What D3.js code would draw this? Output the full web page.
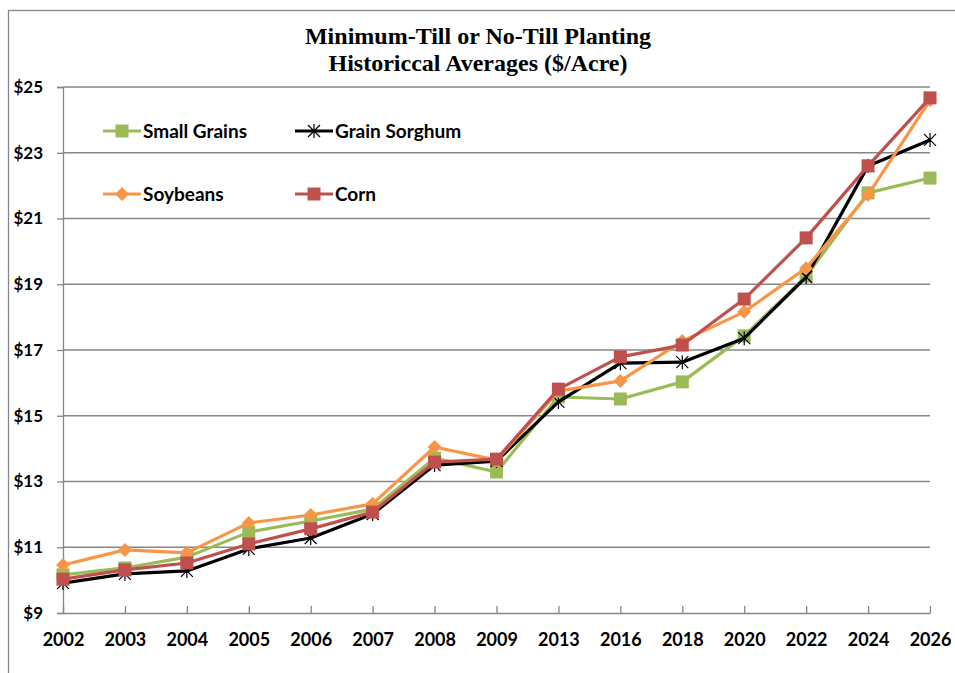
<!DOCTYPE html>
<html>
<head>
<meta charset="utf-8">
<script src="https://cdn.jsdelivr.net/npm/d3@7"></script>
<style>
  body { margin: 0; background: #fff; }
  text { font-family: Lato, "Open Sans", sans-serif; }
</style>
</head>
<body>
<div id="chart"></div>
<script>
// categories (x axis) and series values
var years = ["2002","2003","2004","2005","2006","2007","2008","2009","2013","2016","2018","2020","2022","2024","2026"];
var smallGrains  = [10.16, 10.37, 10.70, 11.46, 11.80, 12.16, 13.71, 13.29, 15.57, 15.51, 16.03, 17.43, 19.25, 21.78, 22.23];
var grainSorghum = [ 9.91, 10.19, 10.28, 10.95, 11.28, 12.01, 13.50, 13.62, 15.42, 16.60, 16.63, 17.36, 19.22, 22.60, 23.39];
var soybeans     = [10.46, 10.92, 10.83, 11.74, 11.98, 12.32, 14.05, 13.65, 15.75, 16.06, 17.27, 18.16, 19.49, 21.72, 24.60];
var corn         = [10.03, 10.31, 10.52, 11.10, 11.56, 12.07, 13.59, 13.68, 15.81, 16.79, 17.15, 18.55, 20.41, 22.60, 24.67];
var yTicks = [9, 11, 13, 15, 17, 19, 21, 23, 25];

var series = [
  {name: "Small Grains",  values: smallGrains,  color: "#9BBB59", marker: "square"},
  {name: "Grain Sorghum", values: grainSorghum, color: "#000000", marker: "star"},
  {name: "Soybeans",      values: soybeans,     color: "#F79646", marker: "diamond"},
  {name: "Corn",          values: corn,         color: "#C0504D", marker: "square"}
];

var W = 955, H = 673;
// plot area (note: "top" is reserved on window, so use prefixed names)
var pLeft = 63, pRight = 930, pTop = 87, pBottom = 613;

var svg = d3.select("#chart").append("svg")
  .attr("width", W).attr("height", H);

// outer chart border
svg.append("rect")
  .attr("x", 8.5).attr("y", 10.5)
  .attr("width", 1000).attr("height", 700)
  .attr("fill", "none").attr("stroke", "#868686").attr("stroke-width", 1.3);

// title
var title = svg.append("text")
  .attr("text-anchor", "middle")
  .style("font-family", "'Liberation Serif', 'Times New Roman', serif")
  .style("font-weight", "bold")
  .style("font-size", "24px");
title.append("tspan").attr("x", 478).attr("y", 44).text("Minimum-Till or No-Till Planting");
title.append("tspan").attr("x", 478).attr("y", 71).text("Historiccal Averages ($/Acre)");

var x = d3.scalePoint().domain(years).range([pLeft, pRight]);
var y = d3.scaleLinear().domain([9, 25]).range([pBottom, pTop]);

// gridlines
svg.append("g").selectAll("line")
  .data(yTicks.filter(function (d) { return d > 9; }))
  .enter().append("line")
  .attr("x1", pLeft).attr("x2", pRight)
  .attr("y1", function (d) { return y(d); })
  .attr("y2", function (d) { return y(d); })
  .attr("stroke", "#868686").attr("stroke-width", 1.3);

// y axis
var yAxis = svg.append("g")
  .attr("transform", "translate(" + pLeft + ",0)")
  .call(d3.axisLeft(y).tickValues(yTicks).tickSize(6).tickPadding(14)
    .tickFormat(function (d) { return "$" + d; }));
yAxis.select(".domain").attr("stroke", "#868686").attr("stroke-width", 1.3);
yAxis.selectAll(".tick line").attr("stroke", "#868686").attr("stroke-width", 1.3);
yAxis.selectAll("text")
  .style("font-size", "17px").style("font-weight", "bold").attr("fill", "#000")
  .style("font-family", "Lato, sans-serif");

// x axis (ticks pointing inward)
var xAxis = svg.append("g")
  .attr("transform", "translate(0," + pBottom + ")")
  .call(d3.axisBottom(x).tickSize(-7).tickPadding(20).tickSizeOuter(0));
xAxis.select(".domain").attr("stroke", "#868686").attr("stroke-width", 1.3);
xAxis.selectAll(".tick line").attr("stroke", "#868686").attr("stroke-width", 1.3);
xAxis.selectAll("text")
  .style("font-size", "18px").style("font-weight", "bold").attr("fill", "#000")
  .style("font-family", "Lato, sans-serif");

// marker drawing helper
function drawMarker(g, type, color, cx, cy) {
  if (type === "square") {
    g.append("rect").attr("x", cx - 6.5).attr("y", cy - 6.5)
      .attr("width", 13).attr("height", 13).attr("fill", color);
  } else if (type === "diamond") {
    g.append("path")
      .attr("d", "M" + cx + "," + (cy - 7) + "L" + (cx + 7) + "," + cy +
                 "L" + cx + "," + (cy + 7) + "L" + (cx - 7) + "," + cy + "Z")
      .attr("fill", color);
  } else if (type === "star") {
    var r = 6;
    var p = "M" + (cx - r) + "," + (cy - r) + "L" + (cx + r) + "," + (cy + r) +
            "M" + (cx - r) + "," + (cy + r) + "L" + (cx + r) + "," + (cy - r) +
            "M" + cx + "," + (cy - r - 1) + "L" + cx + "," + (cy + r + 1);
    g.append("path").attr("d", p).attr("stroke", color)
      .attr("stroke-width", 1.2).attr("fill", "none");
  }
}

var line = d3.line()
  .x(function (d, i) { return x(years[i]); })
  .y(function (d) { return y(d); });

series.forEach(function (s) {
  var g = svg.append("g");
  g.append("path").datum(s.values)
    .attr("d", line).attr("fill", "none")
    .attr("stroke", s.color).attr("stroke-width", 3.2)
    .attr("stroke-linejoin", "round");
  s.values.forEach(function (v, i) {
    drawMarker(g, s.marker, s.color, x(years[i]), y(v));
  });
});

// legend
var legendPos = [
  {lx: 103, ly: 131}, {lx: 295, ly: 131},
  {lx: 103, ly: 194}, {lx: 295, ly: 194}
];
series.forEach(function (s, i) {
  var p = legendPos[i];
  var g = svg.append("g");
  g.append("line").attr("x1", p.lx).attr("x2", p.lx + 38)
    .attr("y1", p.ly).attr("y2", p.ly)
    .attr("stroke", s.color).attr("stroke-width", 3.2);
  drawMarker(g, s.marker, s.color, p.lx + 19, p.ly);
  g.append("text").attr("x", p.lx + 40).attr("y", p.ly + 7)
    .style("font-size", "19px").style("font-weight", "bold")
    .attr("fill", "#000").text(s.name);
});
</script>
</body>
</html>
